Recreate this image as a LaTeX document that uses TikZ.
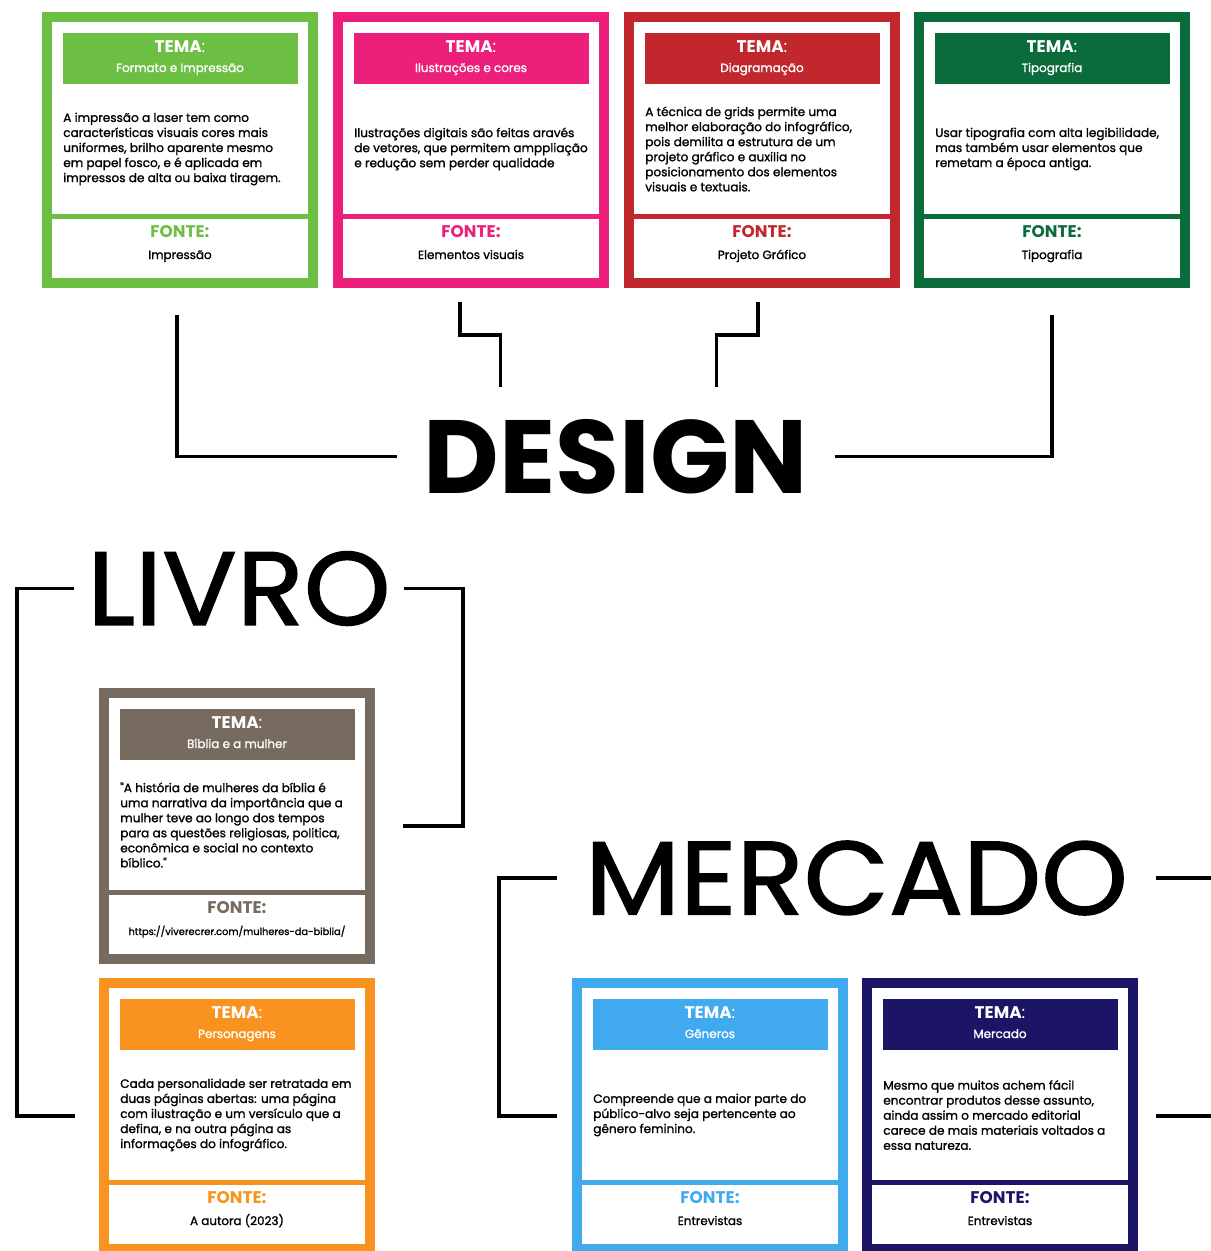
\documentclass[tikz,border=0pt]{standalone}
\usepackage{fontspec}
\setmainfont{Poppins}
\newfontfamily\medfont{Poppins}[FakeBold=1.3]
\newfontfamily\titlefont{Poppins}[FakeBold=1.4, FakeStretch=1.06]
\usetikzlibrary{positioning,calc}
\definecolor{ifgreen}{HTML}{6DBF43}
\definecolor{ifpink}{HTML}{EC1F7A}
\definecolor{ifred}{HTML}{C1272D}
\definecolor{ifforest}{HTML}{0A6B3B}
\definecolor{ifbrown}{HTML}{776A5E}
\definecolor{iforange}{HTML}{F7931E}
\definecolor{ifblue}{HTML}{41A9F0}
\definecolor{ifnavy}{HTML}{1C1565}
% card: name, left, top, colour, tema, text, fonte
\newcommand{\infocard}[7]{%
  \begin{scope}[shift={(#2,#3)}]
    \node[cardframe, draw=#4] (#1) at (138,138) {};
    \fill[#4] (21,21) rectangle (256,72);
    \node[tematitle] at (138,40) {\textbf{TEMA}:};
    \node[temasub] at (138,60) {#5};
    \fill[#4] (5,202) rectangle (271,207);
    \node[cardbody] at (21,137) {#6};
    \node[fontetitle, text=#4] at (138,225) {FONTE:};
    \node[fontesub] at (138,247) {#7};
  \end{scope}}

\begin{document}
\begin{tikzpicture}[
  x=0.025cm, y=-0.025cm,
  cardframe/.style={line width=0.25cm, outer sep=0.125cm, inner sep=0pt, minimum size=6.65cm, fill=white},
  tematitle/.style={anchor=base, text=white, inner sep=0pt, font=\fontsize{12}{14}\selectfont},
  temasub/.style={anchor=base, text=white, inner sep=0pt, font=\medfont\fontsize{8.5}{10}\selectfont},
  cardbody/.style={anchor=west, align=left, inner sep=0pt, font=\medfont\fontsize{8.6}{10.7}\selectfont},
  fontetitle/.style={anchor=base, inner sep=0pt, font=\fontsize{12}{14}\selectfont\bfseries},
  fontesub/.style={anchor=base, inner sep=0pt, font=\medfont\fontsize{8.5}{10}\selectfont},
  bigtitle/.style={inner ysep=33*0.025cm, font=\titlefont\fontsize{74}{74}\selectfont},
  bracket/.style={line width=0.0875cm, black}
]
\useasboundingbox (0,0) rectangle (1211,1251);
\clip (0,0) rectangle (1211,1251);
% top row: design cards
\infocard{card1}{42}{12}{ifgreen}{Formato e Impressão}{A impressão a laser tem como\\características visuais cores mais\\uniformes, brilho aparente mesmo\\em papel fosco, e é aplicada em\\impressos de alta ou baixa tiragem.}{Impressão}
\infocard{card2}{333}{12}{ifpink}{Ilustrações e cores}{Ilustrações digitais são feitas aravés\\de vetores, que permitem amppliação\\e redução sem perder qualidade}{Elementos visuais}
\infocard{card3}{624}{12}{ifred}{Diagramação}{A técnica de grids permite uma\\melhor elaboração do infográfico,\\pois demilita a estrutura de um\\projeto gráfico e auxilia no\\posicionamento dos elementos\\visuais e textuais.}{Projeto Gráfico}
\infocard{card4}{914}{12}{ifforest}{Tipografia}{Usar tipografia com alta legibilidade,\\mas também usar elementos que\\remetam a época antiga.}{Tipografia}
% livro cards
\infocard{card5}{99}{688}{ifbrown}{Bíblia e a mulher}{\textquotedbl A história de mulheres da bíblia é\\uma narrativa da importância que a\\mulher teve ao longo dos tempos\\para as questões religiosas, politica,\\econômica e social no contexto\\bíblico.\textquotedbl}{\fontsize{7}{9}\selectfont https://viverecrer.com/mulheres-da-biblia/}
\infocard{card6}{99}{978}{iforange}{Personagens}{Cada personalidade ser retratada em\\duas páginas abertas: uma página\\com ilustração e um versículo que a\\defina, e na outra página as\\informações do infográfico.}{A autora (2023)}
% mercado cards
\infocard{card7}{572}{978}{ifblue}{Gêneros}{Compreende que a maior parte do\\público-alvo seja pertencente ao\\gênero feminino.}{Entrevistas}
\infocard{card8}{862}{978}{ifnavy}{Mercado}{Mesmo que muitos achem fácil\\encontrar produtos desse assunto,\\ainda assim o mercado editorial\\carece de mais materiais voltados a\\essa natureza.}{Entrevistas}
% titles
\node[bigtitle, inner xsep=27*0.025cm, font=\rmfamily\fontsize{74}{74}\selectfont\bfseries] (design) at (616,456.5) {DESIGN};
\node[bigtitle, inner xsep=13*0.025cm] (livro) at (239,588.5) {LIVRO};
\node[bigtitle, inner xsep=28*0.025cm] (mercado) at (856.5,878) {MERCADO};
% design brackets
\draw[bracket] ($(card1.south)+(-3,27)$) |- (design.west);
\draw[bracket] ($(card4.south)+(0,27)$) |- (design.east);
\draw[bracket] ($(card2.south)+(-11,14)$) |- ++(40.5,33) -- ++(0,52);
\draw[bracket] ($(card3.south)+(-4,14)$) |- ++(-41.5,33) -- ++(0,52);
% livro brackets
\draw[bracket] (livro.west) -| ($(card6.west)+(-82,0)$) -- ($(card6.west)+(-24,0)$);
\draw[bracket] (livro.east) -| ($(card5.east)+(88,0)$) -- ($(card5.east)+(28,0)$);
% mercado brackets
\draw[bracket] (mercado.west) -| ($(card7.west)+(-73,0)$) -- ($(card7.west)+(-15,0)$);
\draw[bracket] (mercado.east) -| ($(card8.east)+(80,0)$) -- ($(card8.east)+(18,0)$);
\end{tikzpicture}
\end{document}
